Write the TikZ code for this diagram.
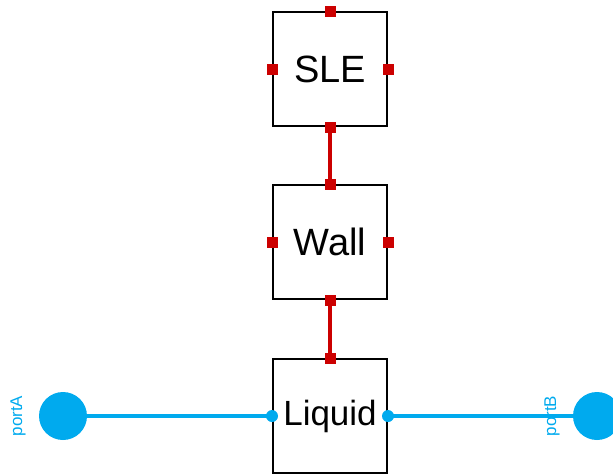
\documentclass[tikz,border=0pt]{standalone}
\usepackage{fontspec}
\setmainfont{Liberation Sans}
\definecolor{heatred}{RGB}{204,0,0}
\definecolor{fluidblue}{RGB}{0,170,238}
\begin{document}
\begin{tikzpicture}[x=1pt, y=-1pt,
    block/.style={draw=black, line width=2pt, fill=white, minimum size=114pt, inner sep=0pt},
    heatport/.style={fill=heatred, minimum size=11pt, inner sep=0pt},
    fluidport/.style={circle, fill=fluidblue, minimum size=12pt, inner sep=0pt},
    bigport/.style={circle, fill=fluidblue, minimum size=48pt, inner sep=0pt},
    heatline/.style={draw=heatred, line width=3.5pt},
    fluidline/.style={draw=fluidblue, line width=3.5pt},
    portlabel/.style={text=fluidblue, font=\fontsize{17}{17}\selectfont, rotate=90}]
        \useasboundingbox (0,0) rectangle (613,475);
        % Defining the blocks
        \node[block] (sle) at (330,69) {\fontsize{38}{38}\selectfont SLE};
        \node[block] (wall) at (330,242) {\fontsize{38}{38}\selectfont Wall};
        \node[block] (liquid) at (330,416) {\fontsize{35}{35}\selectfont Liquid};
        
        % Outer fluid ports
        \node[bigport] (portA) at (63,416) {};
        \node[bigport] (portB) at (597,416) {};
        
        % Heat ports on the blocks
        \node[heatport] (sleT) at (sle.north) {};
        \node[heatport] (sleL) at (sle.west) {};
        \node[heatport] (sleR) at (sle.east) {};
        \node[heatport] (wallL) at (wall.west) {};
        \node[heatport] (wallR) at (wall.east) {};
        
        % Drawing the connections
        \draw[heatline] (sle.south) -- (wall.north);
        \draw[heatline] (wall.south) -- (liquid.north);
        \draw[fluidline] (portA) -- (liquid.west);
        \draw[fluidline] (liquid.east) -- (portB);
        \node[heatport] (sleB) at (sle.south) {};
        \node[heatport] (wallT) at (wall.north) {};
        \node[heatport] (wallB) at (wall.south) {};
        \node[heatport] (liquidT) at (liquid.north) {};
        \node[fluidport] (liquidL) at (liquid.west) {};
        \node[fluidport] (liquidR) at (liquid.east) {};
        
        % Adding labels
        \node[portlabel] (labA) at (18,416) {portA};
        \node[portlabel] (labB) at (552,416) {portB};
    \end{tikzpicture}
\end{document}
